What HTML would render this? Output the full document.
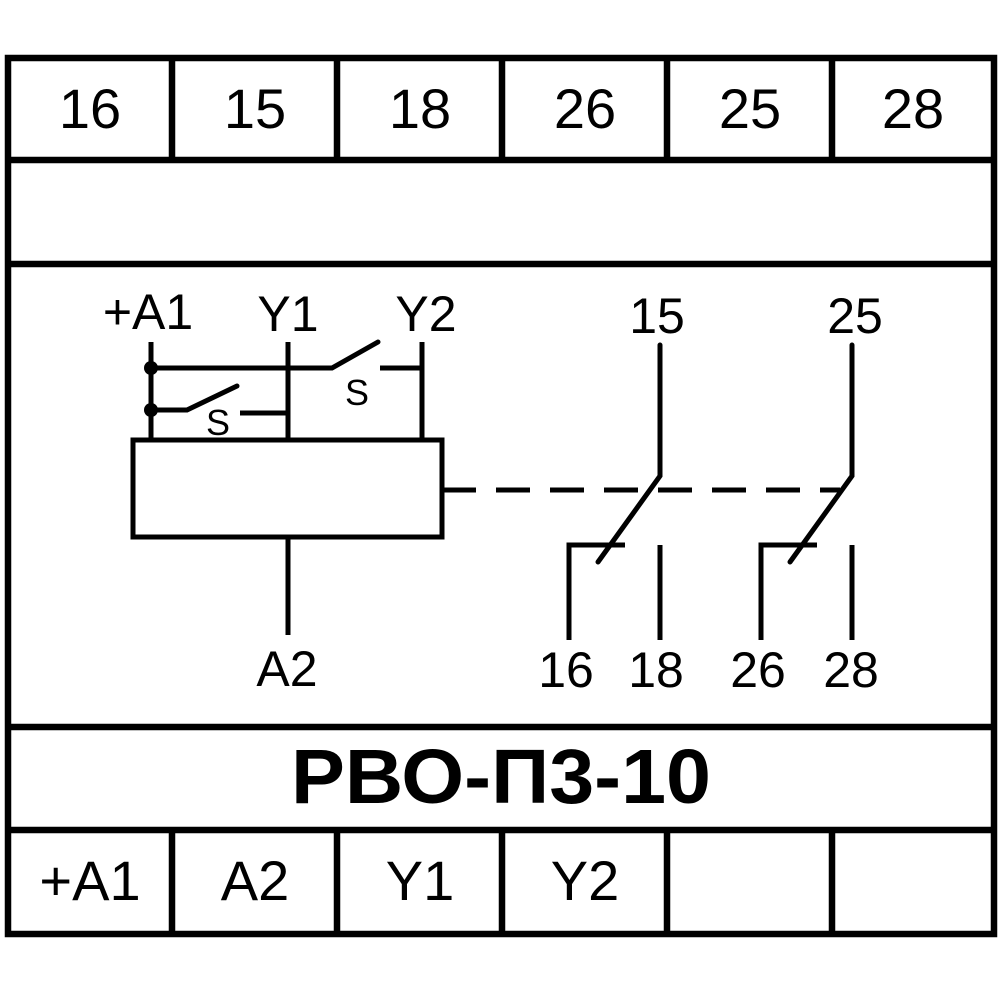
<!DOCTYPE html>
<html><head><meta charset="utf-8"><style>
html,body{margin:0;padding:0;background:#fff;}
svg{display:block;}
text{font-family:"Liberation Sans",Arial,sans-serif;fill:#000;}
</style></head><body>
<svg width="1000" height="1000" viewBox="0 0 1000 1000" xmlns="http://www.w3.org/2000/svg">
<g stroke="#000" stroke-width="6.5" fill="none">
<rect x="8" y="58" width="986" height="876"/>
<line x1="8" y1="160" x2="994" y2="160"/>
<line x1="8" y1="264" x2="994" y2="264"/>
<line x1="8" y1="727" x2="994" y2="727"/>
<line x1="8" y1="830" x2="994" y2="830"/>
<line x1="172" y1="58" x2="172" y2="160"/>
<line x1="337" y1="58" x2="337" y2="160"/>
<line x1="502" y1="58" x2="502" y2="160"/>
<line x1="667" y1="58" x2="667" y2="160"/>
<line x1="832" y1="58" x2="832" y2="160"/>
<line x1="172" y1="830" x2="172" y2="934"/>
<line x1="337" y1="830" x2="337" y2="934"/>
<line x1="502" y1="830" x2="502" y2="934"/>
<line x1="667" y1="830" x2="667" y2="934"/>
<line x1="832" y1="830" x2="832" y2="934"/>
</g>
<g stroke="#000" stroke-width="5" fill="none" stroke-linecap="butt">
<rect x="133" y="440" width="309" height="97"/>
<line x1="151" y1="342" x2="151" y2="440"/>
<line x1="288" y1="342" x2="288" y2="440"/>
<line x1="422" y1="342" x2="422" y2="440"/>
<polyline points="151,368 332,368 378,342" stroke-linecap="round"/>
<line x1="380" y1="368" x2="422" y2="368"/>
<polyline points="151,410 187,410 237,386" stroke-linecap="round"/>
<line x1="240" y1="413" x2="288" y2="413"/>
<line x1="288" y1="537" x2="288" y2="635"/>
<line x1="442" y1="490" x2="840" y2="490" stroke-dasharray="34 20"/>
<polyline points="660,345 660,476 598,562" stroke-linecap="round"/>
<polyline points="569,640 569,545 625,545"/>
<line x1="660" y1="545" x2="660" y2="640"/>
<polyline points="852,345 852,476 790,562" stroke-linecap="round"/>
<polyline points="761,640 761,545 817,545"/>
<line x1="852" y1="545" x2="852" y2="640"/>
</g>
<circle cx="151" cy="368" r="7" fill="#000"/>
<circle cx="151" cy="410" r="7" fill="#000"/>
<g font-size="56" text-anchor="middle">
<text x="90" y="128">16</text>
<text x="255" y="128">15</text>
<text x="420" y="128">18</text>
<text x="585" y="128">26</text>
<text x="750" y="128">25</text>
<text x="913" y="128">28</text>
<text x="90" y="900">+A1</text>
<text x="255" y="900">A2</text>
<text x="420" y="900">Y1</text>
<text x="585" y="900">Y2</text>
</g>
<g font-size="50" text-anchor="middle">
<text x="148" y="329">+A1</text>
<text x="288" y="331">Y1</text>
<text x="426" y="331">Y2</text>
<text x="657" y="333">15</text>
<text x="855" y="333">25</text>
<text x="287" y="686">A2</text>
<text x="566" y="687">16</text>
<text x="656" y="687">18</text>
<text x="758" y="687">26</text>
<text x="851" y="687">28</text>
</g>
<g font-size="36" text-anchor="middle">
<text x="357" y="405">S</text>
<text x="218" y="435">S</text>
</g>
<text x="501" y="803" font-size="77" font-weight="bold" text-anchor="middle" textLength="420" lengthAdjust="spacingAndGlyphs" style="font-family:'Liberation Sans',Arial,sans-serif" fill="#231f20">РВО-П3-10</text>
</svg>
</body></html>
